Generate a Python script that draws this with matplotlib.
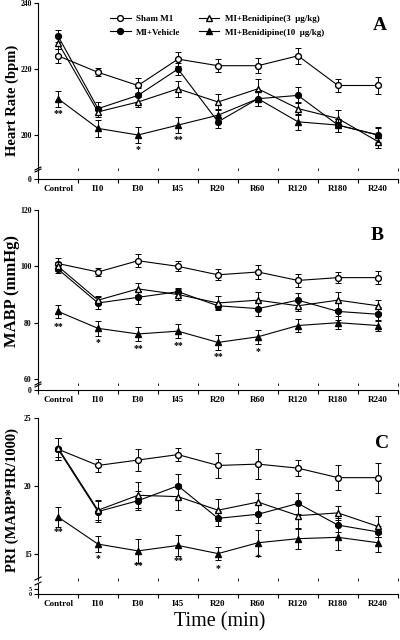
import matplotlib
matplotlib.use('Agg')
import matplotlib.pyplot as plt
from matplotlib.lines import Line2D

plt.rcParams['font.family'] = ['Liberation Serif', 'DejaVu Serif']

categories = ["Control", "I10", "I30", "I45", "R20", "R60", "R120", "R180", "R240"]
series_labels = ["Sham M1", "MI+Vehicle", "MI+Benidipine(3  \u03bcg/kg)", "MI+Benidipine(10  \u03bcg/kg)"]

# Panel A: Heart rate (bpm)
hr_sham = [224, 219, 215, 223, 221, 221, 224, 215, 215]
hr_sham_err = [2.2, 1.2, 2.2, 2.1, 1.9, 2.3, 2.4, 2.1, 2.5]
hr_veh = [230, 208, 212, 220, 204, 211, 212, 203, 200]
hr_veh_err = [1.8, 2.0, 2.3, 1.8, 2.0, 2.3, 2.4, 2.0, 2.4]
hr_ben3 = [228, 207, 210, 214, 210, 214, 208, 205, 198]
hr_ben3_err = [2.0, 1.5, 1.5, 2.5, 2.4, 3.0, 2.0, 2.7, 2.0]
hr_ben10 = [211, 202, 200, 203, 206, 211, 204, 203, 200]
hr_ben10_err = [2.4, 2.6, 2.3, 2.5, 2.0, 2.3, 2.4, 2.0, 2.0]
hr_stars = ["**", "", "*", "**", "", "", "", "", ""]

# Panel B: MABP (mmHg)
mabp_sham = [101, 98, 102, 100, 97, 98, 95, 96, 96]
mabp_sham_err = [2.1, 1.4, 2.3, 1.8, 1.9, 2.4, 2.2, 1.9, 2.4]
mabp_veh = [99, 87, 89, 91, 86, 85, 88, 84, 83]
mabp_veh_err = [1.5, 2.2, 2.4, 1.4, 1.2, 2.7, 2.4, 3.0, 2.5]
mabp_ben3 = [100, 88, 92, 90, 87, 88, 86, 88, 86]
mabp_ben3_err = [1.5, 1.5, 2.1, 2.0, 2.4, 3.0, 1.9, 3.0, 2.1]
mabp_ben10 = [84, 78, 76, 77, 73, 75, 79, 80, 79]
mabp_ben10_err = [2.2, 2.7, 2.4, 2.5, 2.7, 2.4, 2.4, 2.4, 2.1]
mabp_stars = ["**", "*", "**", "**", "**", "*", "", "", ""]

# Panel C: PRI (MABP*HR/1000)
pri_sham = [22.7, 21.5, 21.9, 22.3, 21.5, 21.6, 21.3, 20.6, 20.6]
pri_sham_err = [0.8, 0.5, 0.8, 0.5, 0.9, 1.1, 0.6, 0.9, 1.1]
pri_veh = [22.7, 18.1, 18.9, 20.0, 17.6, 17.9, 18.7, 17.1, 16.6]
pri_veh_err = [0.8, 0.75, 0.7, 0.9, 0.55, 0.65, 0.8, 0.5, 0.4]
pri_ben3 = [22.8, 18.2, 19.3, 19.2, 18.2, 18.8, 17.8, 18.0, 17.0]
pri_ben3_err = [0.7, 0.75, 0.95, 0.95, 0.8, 0.7, 0.9, 0.5, 0.75]
pri_ben10 = [17.7, 15.7, 15.2, 15.6, 15.0, 15.8, 16.1, 16.2, 15.8]
pri_ben10_err = [0.75, 0.6, 0.9, 0.8, 0.45, 0.95, 0.75, 0.9, 0.65]
pri_stars = ["**", "*", "**", "**", "*", "*", "", "", ""]

W, H = 400, 640
fig = plt.figure(figsize=(W / 100, H / 100), dpi=100)

def fbox(x0, y0, x1, y1):
    # pixel box (from top-left) to figure fraction [left, bottom, width, height]
    return [x0 / W, 1 - y1 / H, (x1 - x0) / W, (y1 - y0) / H]

styles = [
    dict(marker='o', mfc='white', mec='black', ms=4.2),
    dict(marker='o', mfc='black', mec='black', ms=4.2),
    dict(marker='^', mfc='white', mec='black', ms=4.0),
    dict(marker='^', mfc='black', mec='black', ms=4.0),
]

tick_font = dict(family=['Liberation Serif', 'DejaVu Serif'], weight='bold', size=5.5)
x = list(range(len(categories)))

def panel(main_box, low_box, ylim, yticks, low_ylim, low_ticks, low_size, data, errs, stars,
          letter, letter_xy, ylabel, ylabel_xy, ylabel_size):
    ax = fig.add_axes(fbox(*main_box))
    axl = fig.add_axes(fbox(*low_box), sharex=ax)
    for i, (d, e) in enumerate(zip(data, errs)):
        ax.errorbar(x, d, yerr=e, color='black', lw=0.8, elinewidth=0.7,
                    capsize=2.3, capthick=0.7, zorder=3 + i, **styles[i])
    for xi, s, v, e in zip(x, stars, data[3], errs[3]):
        if s:
            ax.annotate(s, (xi, v), xytext=(0, -10.5), textcoords='offset points',
                        ha='center', va='center', fontsize=7, fontweight='bold')
    ax.set_xlim(-0.5, len(categories) - 0.5)
    ax.set_ylim(*ylim)
    ax.set_yticks(yticks)
    ax.set_yticklabels([str(t) for t in yticks], fontdict=tick_font)
    for sp in ['top', 'right', 'bottom']:
        ax.spines[sp].set_visible(False)
    ax.spines['left'].set_linewidth(0.8)
    ax.tick_params(axis='y', length=3, width=0.8, pad=1.5)
    ax.tick_params(axis='x', bottom=False, labelbottom=False)

    axl.set_ylim(*low_ylim)
    axl.set_yticks(low_ticks)
    axl.set_yticklabels([str(t) for t in low_ticks], fontdict=dict(tick_font, size=low_size))
    for sp in ['top', 'right']:
        axl.spines[sp].set_visible(False)
    axl.spines['left'].set_linewidth(0.8)
    axl.spines['bottom'].set_linewidth(0.8)
    axl.tick_params(axis='y', length=3, width=0.8, pad=1.5)
    axl.set_xticks([i + 0.5 for i in range(len(categories) - 1)] + [-0.5, len(categories) - 0.5], minor=True)
    axl.set_xticks(x)
    axl.set_xticklabels(categories, fontdict=dict(tick_font, size=6.5))
    axl.tick_params(axis='x', which='major', length=0, pad=4)
    axl.tick_params(axis='x', which='minor', length=3, width=0.8)

    # break marks on the y-axis spine
    bx = main_box[0] / W
    for yy in (main_box[3] + 0.5, low_box[1] - 0.5):
        fig.add_artist(Line2D([bx - 3 / W, bx + 3 / W], [1 - (yy + 1.5) / H, 1 - (yy - 1.5) / H],
                              color='black', lw=0.8))

    fig.text(letter_xy[0] / W, 1 - letter_xy[1] / H, letter, fontsize=14, fontweight='bold',
             ha='center', va='center')
    fig.text(ylabel_xy[0] / W, 1 - ylabel_xy[1] / H, ylabel, fontsize=ylabel_size,
             fontweight='bold', rotation=90, ha='center', va='center')
    return ax, axl

panel((38, 3, 398, 168), (38, 171, 398, 179), (190, 240), [200, 220, 240],
      (0, 1), [0], 5.5,
      [hr_sham, hr_veh, hr_ben3, hr_ben10],
      [hr_sham_err, hr_veh_err, hr_ben3_err, hr_ben10_err], hr_stars,
      'A', (380, 25), 'Heart Rate (bpm)', (12, 100), 10.5)

panel((38, 210, 398, 383), (38, 386, 398, 390), (58.6, 120), [60, 80, 100, 120],
      (0, 1), [0], 5.5,
      [mabp_sham, mabp_veh, mabp_ben3, mabp_ben10],
      [mabp_sham_err, mabp_veh_err, mabp_ben3_err, mabp_ben10_err], mabp_stars,
      'B', (377, 236), 'MABP (mmHg)', (12, 291), 12)

panel((38, 418, 398, 578), (38, 584, 398, 594), (13.2, 25), [15, 20, 25],
      (0, 10), [0, 5], 4.5,
      [pri_sham, pri_veh, pri_ben3, pri_ben10],
      [pri_sham_err, pri_veh_err, pri_ben3_err, pri_ben10_err], pri_stars,
      'C', (382, 443), 'PRI (MABP*HR/1000)', (12, 500), 10.5)

handles = [Line2D([], [], color='black', lw=0.8, **s) for s in styles]
fig.legend(handles, series_labels, ncol=2, loc='upper left',
           bbox_to_anchor=(110 / W, 1 - 15 / H), frameon=False, borderpad=0,
           borderaxespad=0, handlelength=2.3, handletextpad=0.6, columnspacing=2.0,
           labelspacing=0.55, prop=dict(family=['Liberation Serif', 'DejaVu Serif'],
                                        weight='bold', size=6.5))

fig.text(220 / W, 1 - 622 / H, 'Time (min)', fontsize=14.5, ha='center', va='center')

fig.savefig('out.png', dpi=100)
